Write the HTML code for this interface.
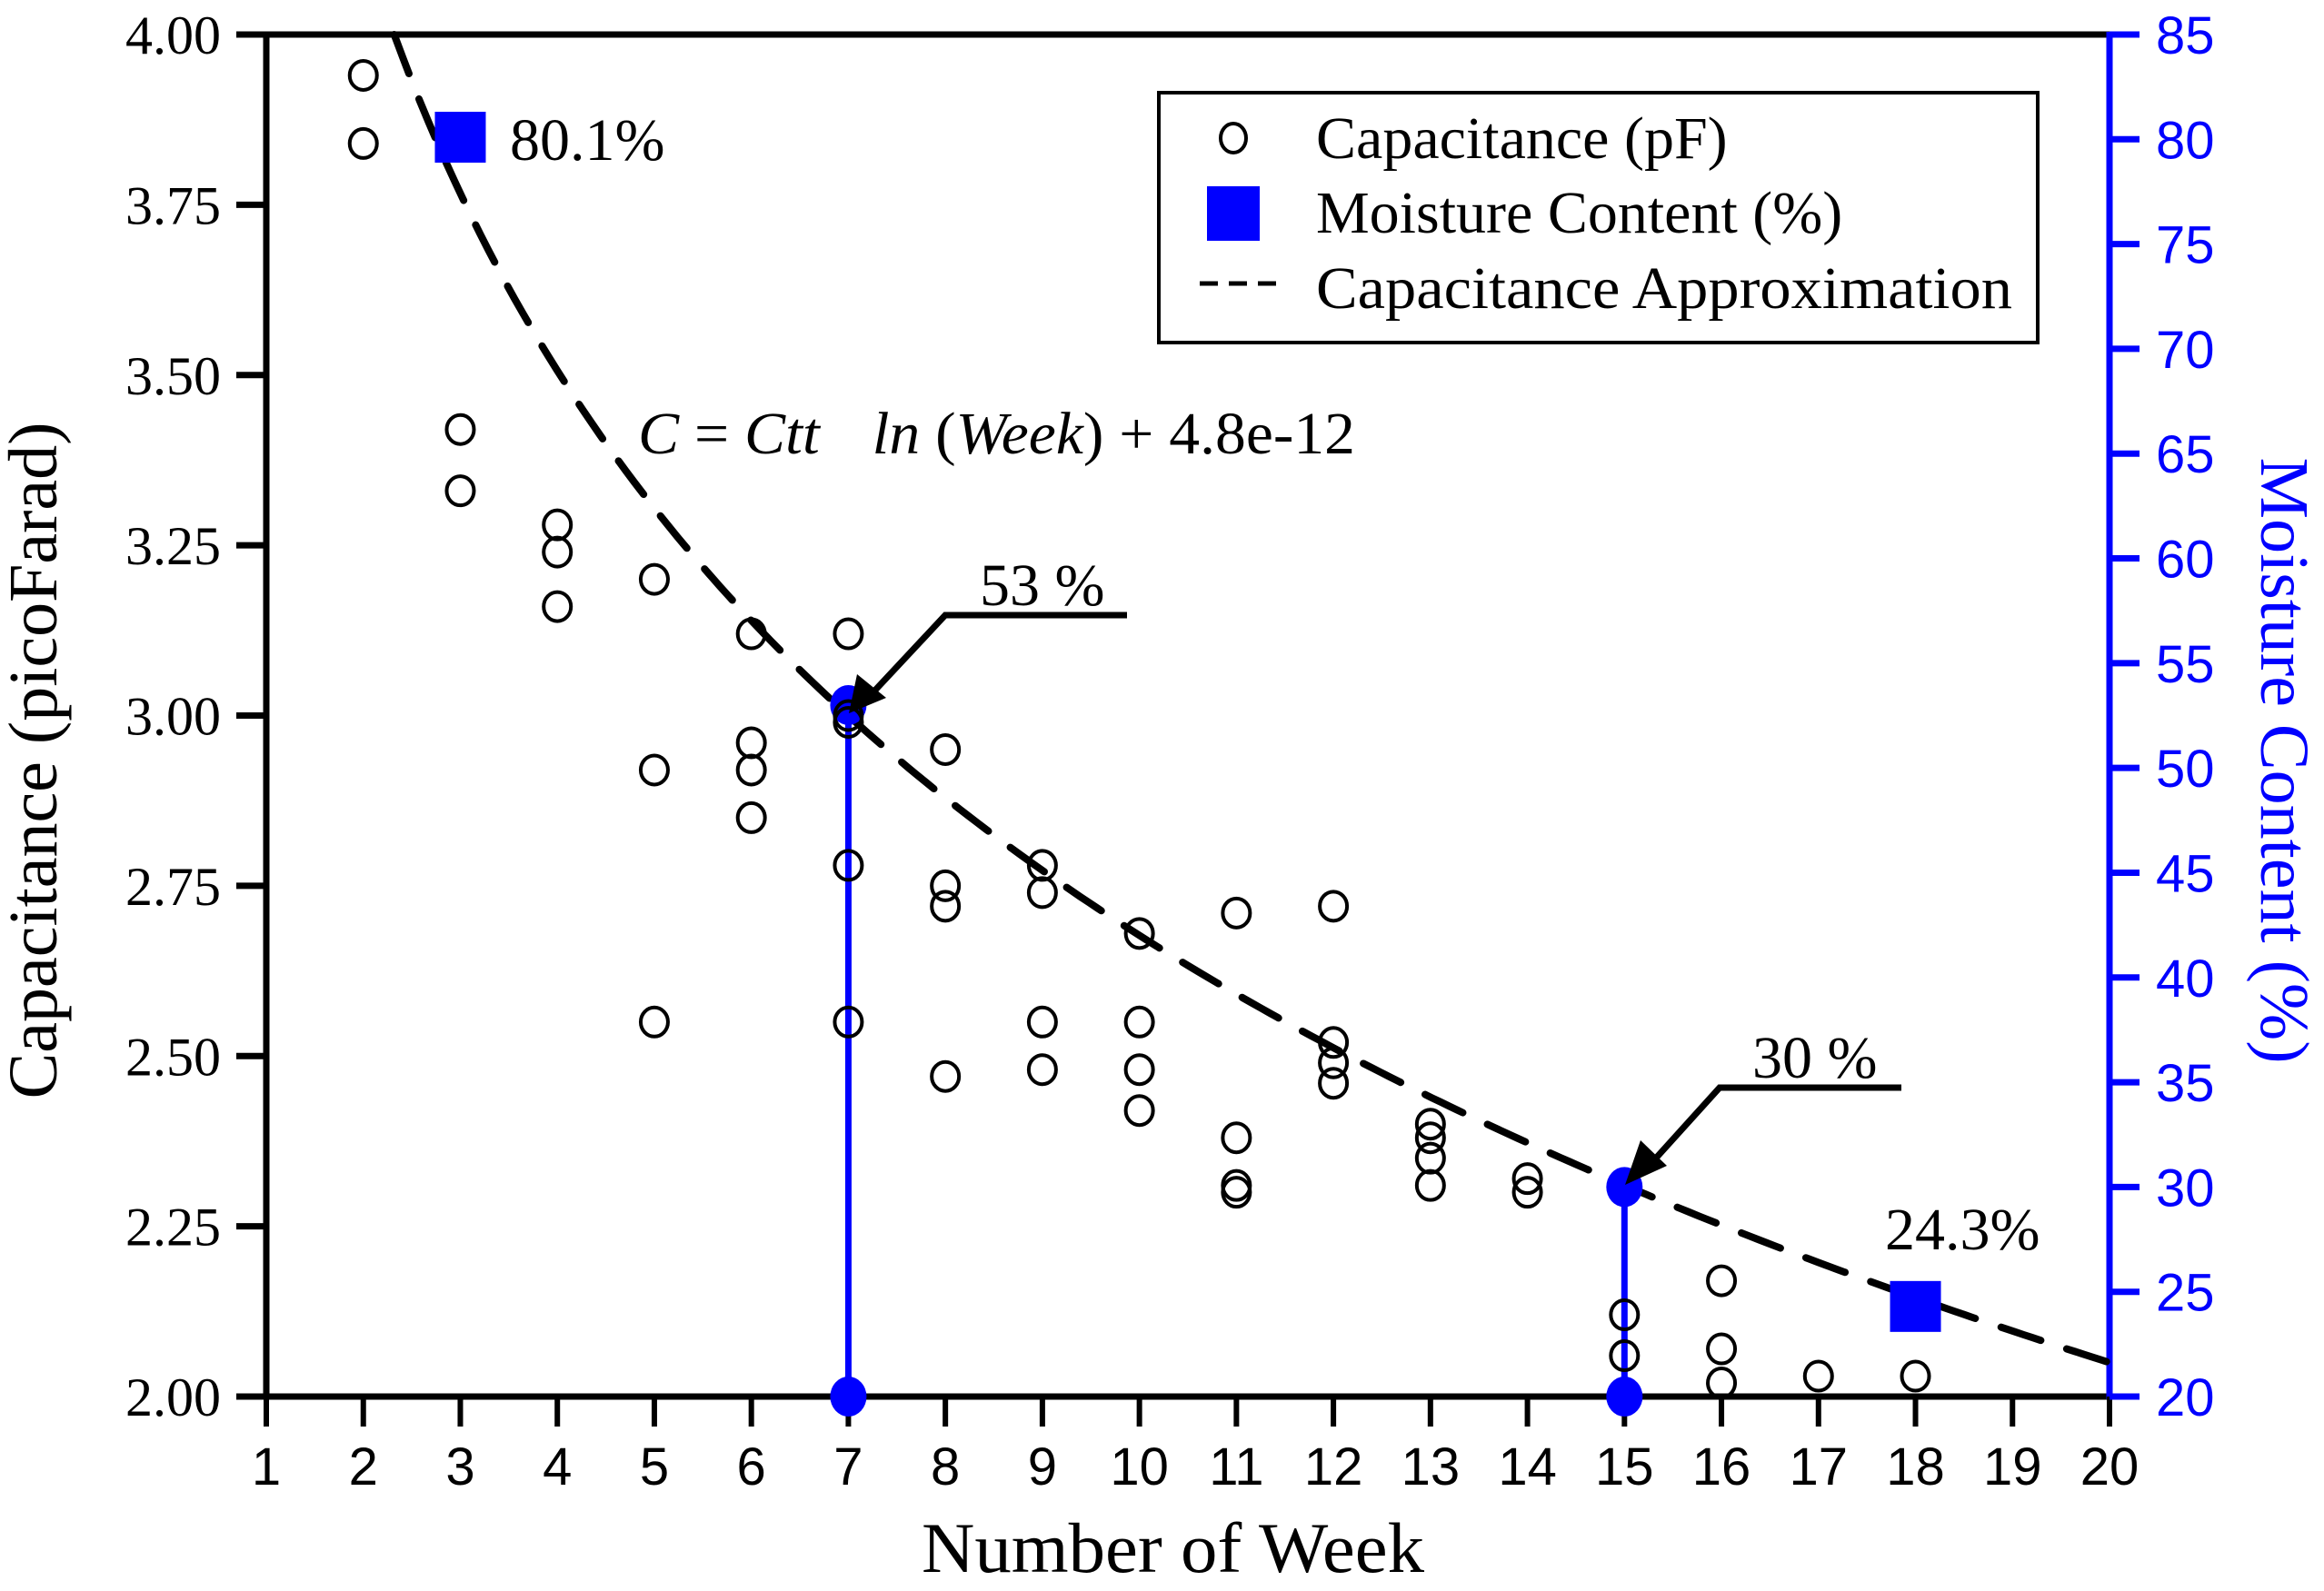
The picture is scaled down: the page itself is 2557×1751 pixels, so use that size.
<!DOCTYPE html>
<html><head><meta charset="utf-8"><style>
html,body{margin:0;padding:0;background:#fff;}
svg{display:block;}
.serif{font-family:"Liberation Serif",serif;}
.sans{font-family:"Liberation Sans",sans-serif;}
</style></head><body>
<svg id="chart" width="2557" height="1751" viewBox="0 0 2557 1751" xmlns="http://www.w3.org/2000/svg">
<g id="g-grid"></g>
<g id="g-curve"></g>
<g id="g-stems"></g>
<g id="g-points"></g>
<g id="g-squares"></g>
<g id="g-annot">
  <text class="serif" x="702" y="499" font-size="66" textLength="789" lengthAdjust="spacingAndGlyphs"><tspan font-style="italic">C</tspan> = <tspan font-style="italic">Ctt</tspan> <tspan font-style="italic" dx="40">ln</tspan> (<tspan font-style="italic">Week</tspan>) + 4.8e-12</text>
  <text class="serif" x="561" y="176" font-size="66">80.1%</text>
  <text class="serif" x="2074" y="1375" font-size="66">24.3%</text>
  <text class="serif" x="1078" y="666" font-size="66">53 %</text>
  <text class="serif" x="1928" y="1186" font-size="66">30 %</text>
  <polyline points="1240,677 1040,677 955,768" fill="none" stroke="#000" stroke-width="7"/>
  <polygon points="934,785 943,742 975,768" fill="#000"/>
  <polyline points="2092,1197 1892,1197 1808,1290" fill="none" stroke="#000" stroke-width="7"/>
  <polygon points="1788,1304 1805,1255 1834,1283" fill="#000"/>
</g>
<g id="g-legend">
  <rect x="1275" y="102" width="967" height="275" fill="#fff" stroke="#000" stroke-width="4"/>
  <ellipse cx="1357" cy="152" rx="14" ry="16" fill="none" stroke="#000" stroke-width="4"/>
  <text class="serif" x="1448" y="174" font-size="66">Capacitance (pF)</text>
  <rect x="1328" y="205" width="58" height="60" fill="#0000ff"/>
  <text class="serif" x="1448" y="256" font-size="66">Moisture Content (%)</text>
  <line x1="1320" y1="312" x2="1410" y2="312" stroke="#000" stroke-width="5" stroke-dasharray="20,12"/>
  <text class="serif" x="1448" y="339" font-size="66" textLength="766" lengthAdjust="spacingAndGlyphs">Capacitance Approximation</text>
</g>
<text class="serif" x="1014" y="1730" font-size="78" textLength="553" lengthAdjust="spacingAndGlyphs">Number of Week</text>
<text class="serif" transform="translate(62,837) rotate(-90)" text-anchor="middle" font-size="76">Capacitance (picoFarad)</text>
<text class="serif" fill="#0000ff" transform="translate(2488,837) rotate(90)" text-anchor="middle" font-size="76">Moisture Content (%)</text>
</svg>
<script>
const weeks = [2,2,3,3,4,4,4,5,5,5,6,6,6,6,7,7,7,7,7,8,8,8,8,9,9,9,9,10,10,10,10,11,11,11,11,12,12,12,12,13,13,13,13,14,14,15,15,16,16,16,17,18];
const capValues = [3.94,3.84,3.42,3.33,3.28,3.24,3.16,3.20,2.92,2.55,3.12,2.96,2.92,2.85,3.12,3.00,2.99,2.78,2.55,2.95,2.75,2.72,2.47,2.78,2.74,2.55,2.48,2.68,2.55,2.48,2.42,2.71,2.38,2.31,2.30,2.72,2.52,2.49,2.46,2.40,2.38,2.35,2.31,2.32,2.30,2.12,2.06,2.17,2.07,2.02,2.03,2.03];
const moistWeeks = [3,18];
const moistValues = [80.1,24.3];
const stemWeeks = [7,15];
const stemValues = [53,30];
const curveA = 4.761;
const curveB = 0.905;
const xTicks = [1,2,3,4,5,6,7,8,9,10,11,12,13,14,15,16,17,18,19,20];
const yTicks = ["2.00","2.25","2.50","2.75","3.00","3.25","3.50","3.75","4.00"];
const y2Ticks = [20,25,30,35,40,45,50,55,60,65,70,75,80,85];

const L=293,R=2321,T=38,B=1537;
const NS='http://www.w3.org/2000/svg';
function X(w){return L+(w-1)/19*(R-L);}
function Y(c){return B-(c-2)/2*(B-T);}
function Y2(m){return B-(m-20)/65*(B-T);}
function mk(tag,attrs,parent){const e=document.createElementNS(NS,tag);for(const k in attrs)e.setAttribute(k,attrs[k]);parent.appendChild(e);return e;}

const ga=document.getElementById('g-grid');
let e;
e=mk('line',{x1:L,y1:T,x2:R,y2:T,stroke:'#000','stroke-width':7},ga);


e=mk('line',{x1:L,y1:T-3,x2:L,y2:B+3,stroke:'#000','stroke-width':7},ga);


e=mk('line',{x1:L,y1:B,x2:R,y2:B,stroke:'#000','stroke-width':7},ga);


e=mk('line',{x1:R,y1:T-3,x2:R,y2:B+3,stroke:'#0000ff','stroke-width':7},ga);


xTicks.forEach(w=>{
  e=mk('line',{x1:X(w),y1:B,x2:X(w),y2:B+33,stroke:'#000','stroke-width':6},ga);
  
  
  e=mk('text',{x:X(w),y:1634,'text-anchor':'middle','font-size':58,class:'sans'},ga);
  e.textContent=w;
  
  
});
yTicks.forEach(t=>{
  const y=Y(parseFloat(t));
  e=mk('line',{x1:L-33,y1:y,x2:L,y2:y,stroke:'#000','stroke-width':7},ga);
  
  
  e=mk('text',{x:243,y:y+21,'text-anchor':'end','font-size':60,class:'serif'},ga);
  e.textContent=t;
  
  
});
y2Ticks.forEach(t=>{
  const y=Y2(t);
  e=mk('line',{x1:R,y1:y,x2:R+33,y2:y,stroke:'#0000ff','stroke-width':7},ga);
  
  
  e=mk('text',{x:2372,y:y+21,'font-size':58,fill:'#0000ff',class:'sans'},ga);
  e.textContent=t;
  
  
});

const gc=document.getElementById('g-curve');
let pts=[];
const wStart=Math.exp((curveA-4)/curveB);
for(let i=0;i<=200;i++){const w=wStart+(20-wStart)*i/200;pts.push(X(w).toFixed(1)+','+Y(curveA-curveB*Math.log(w)).toFixed(1));}
e=mk('polyline',{points:pts.join(' '),fill:'none',stroke:'#000','stroke-width':8,'stroke-dasharray':'46,30','stroke-linecap':'round'},gc);



const gs=document.getElementById('g-stems');
stemWeeks.forEach((w,i)=>{
  e=mk('line',{x1:X(w),y1:Y2(20),x2:X(w),y2:Y2(stemValues[i]),stroke:'#0000ff','stroke-width':7},gs);
  
  
  e=mk('ellipse',{cx:X(w),cy:Y2(20),rx:20,ry:22,fill:'#0000ff'},gs);
  
  
  e=mk('ellipse',{cx:X(w),cy:Y2(stemValues[i]),rx:20,ry:22,fill:'#0000ff'},gs);
  
  
});

const gp=document.getElementById('g-points');
weeks.forEach((w,i)=>{
  e=mk('ellipse',{cx:X(w),cy:Y(capValues[i]),rx:15,ry:16,fill:'none',stroke:'#000','stroke-width':4},gp);
  
  
});

const gq=document.getElementById('g-squares');
moistWeeks.forEach((w,i)=>{
  e=mk('rect',{x:X(w)-28,y:Y2(moistValues[i])-28,width:56,height:56,fill:'#0000ff'},gq);
  
  
});
</script>
</body></html>
